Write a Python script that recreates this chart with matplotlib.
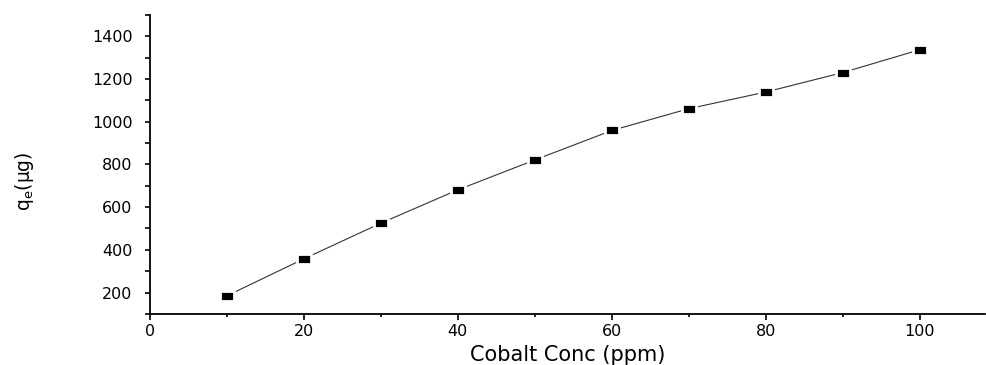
import numpy as np
import matplotlib.pyplot as plt
from matplotlib.path import Path
from matplotlib.ticker import MultipleLocator

# data
conc = [10, 20, 30, 40, 50, 60, 70, 80, 90, 100]
qe = [185, 358, 525, 681, 821, 959, 1061, 1139, 1230, 1337]

plt.rcParams['font.family'] = ['DejaVu Sans']
plt.rcParams['mathtext.default'] = 'regular'

# flat rectangle marker, like Origin's
rect = Path([(-1, -0.68), (1, -0.68), (1, 0.68), (-1, 0.68), (-1, -0.68)],
            [Path.MOVETO, Path.LINETO, Path.LINETO, Path.LINETO, Path.CLOSEPOLY])

fig = plt.figure(figsize=(9.87, 3.65), dpi=100)
ax = fig.add_axes([0.152, 0.14, 0.846, 0.819])

ax.plot(conc, qe, color="#333333", lw=0.8, marker=rect, ms=9.8,
        mfc="black", mec="white", mew=2.0, zorder=3)

ax.set_xlim(0, 108.5)
ax.set_ylim(100, 1500)
ax.xaxis.set_major_locator(MultipleLocator(20))
ax.xaxis.set_minor_locator(MultipleLocator(10))
ax.yaxis.set_major_locator(MultipleLocator(200))
ax.yaxis.set_minor_locator(MultipleLocator(100))
ax.set_yticks(range(200, 1401, 200))

for s in ["top", "right"]:
    ax.spines[s].set_visible(False)
for s in ["left", "bottom"]:
    ax.spines[s].set_linewidth(1.3)

ax.tick_params(axis="both", which="major", direction="out", width=1.2, labelsize=11.5)
ax.tick_params(axis="x", which="major", length=4.5, pad=3)
ax.tick_params(axis="x", which="minor", length=2.5, width=1.2)
ax.tick_params(axis="y", which="major", length=3.5, pad=9)
ax.tick_params(axis="y", which="minor", length=3.5, width=1.2)

ax.set_xlabel("Cobalt Conc (ppm)", fontsize=15, labelpad=4)
ax.set_ylabel(r"q$_{e}$(μg)", fontsize=13.5)
ax.yaxis.set_label_coords(-0.136, 0.445)

plt.savefig("out.png", dpi=100)
